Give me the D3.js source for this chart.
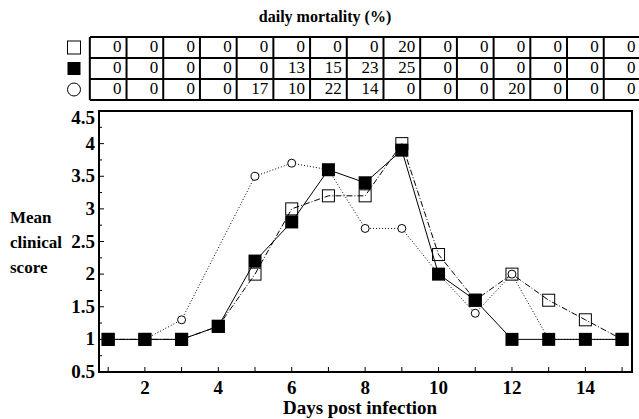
<!DOCTYPE html>
<html>
<head>
<meta charset="utf-8">
</head>
<body style="margin:0">
<script src="https://cdn.jsdelivr.net/npm/d3@7"></script>
<script>
// days on the x axis
var days = [1, 2, 3, 4, 5, 6, 7, 8, 9, 10, 11, 12, 13, 14, 15];

// mean clinical score per group
var openSquare = [1, 1, 1, 1.2, 2.0, 3.0, 3.2, 3.2, 4.0, 2.3, 1.6, 2.0, 1.6, 1.3, 1.0];
var filledSquare = [1, 1, 1, 1.2, 2.2, 2.8, 3.6, 3.4, 3.9, 2.0, 1.6, 1.0, 1.0, 1.0, 1.0];
var circleDays = [1, 2, 3, 5, 6, 7, 8, 9, 10, 11, 12, 13, 14, 15];
var circleScore = [1, 1, 1.3, 3.5, 3.7, 3.6, 2.7, 2.7, 2.0, 1.4, 2.0, 1.0, 1.0, 1.0];

// daily mortality (%) table
var mortOpen = [0, 0, 0, 0, 0, 0, 0, 0, 20, 0, 0, 0, 0, 0, 0];
var mortFilled = [0, 0, 0, 0, 0, 13, 15, 23, 25, 0, 0, 0, 0, 0, 0];
var mortCircle = [0, 0, 0, 0, 17, 10, 22, 14, 0, 0, 0, 20, 0, 0, 0];

var yTicks = [0.5, 1, 1.5, 2, 2.5, 3, 3.5, 4, 4.5];
var xTicks = [2, 4, 6, 8, 10, 12, 14];

var width = 639, height = 419;
var serif = "'Liberation Serif'";

var svg = d3.select("body").append("svg")
    .attr("width", width)
    .attr("height", height);

var x = d3.scaleLinear().domain([0.75, 15.27]).range([99, 632]);
var y = d3.scaleLinear().domain([0.5, 4.5]).range([372, 111]);

function label(sel, size, bold) {
  return sel.style("font-family", serif)
      .style("font-size", size + "px")
      .style("font-weight", bold ? "bold" : "normal")
      .attr("fill", "#000");
}

// ---- mortality table ----
label(svg.append("text"), 16, true)
    .attr("x", 325).attr("y", 22)
    .attr("text-anchor", "middle")
    .text("daily mortality (%)");

var rowTop = 37, rowH = 21;
var rows = [mortOpen, mortFilled, mortCircle];
var table = svg.append("g");

rows.forEach(function(vals, r) {
  var ry = rowTop + r * rowH;
  label(table.selectAll(".cell" + r)
      .data(vals)
      .enter().append("text"), 17, false)
      .attr("x", function(d, i) { return x(days[i] + 0.5) - 5; })
      .attr("y", ry + 15)
      .attr("text-anchor", "end")
      .text(function(d) { return d; });
});

// grid lines of table
for (var r = 0; r <= 3; r++) {
  table.append("line")
      .attr("x1", x(0.5)).attr("x2", x(15.5))
      .attr("y1", rowTop + r * rowH).attr("y2", rowTop + r * rowH)
      .attr("stroke", "#000").attr("stroke-width", 2);
}
table.selectAll(".vline")
    .data(d3.range(0.5, 16, 1))
    .enter().append("line")
    .attr("x1", function(d) { return x(d); })
    .attr("x2", function(d) { return x(d); })
    .attr("y1", rowTop).attr("y2", rowTop + 3 * rowH)
    .attr("stroke", "#000").attr("stroke-width", 2);

// legend symbols beside table
var lx = 74;
table.append("rect").attr("x", lx - 6.5).attr("y", rowTop + 4).attr("width", 13).attr("height", 13)
    .attr("fill", "#fff").attr("stroke", "#000").attr("stroke-width", 1);
table.append("rect").attr("x", lx - 6.5).attr("y", rowTop + rowH + 4).attr("width", 13).attr("height", 13)
    .attr("fill", "#000");
table.append("circle").attr("cx", lx).attr("cy", rowTop + 2 * rowH + 10.5).attr("r", 6.5)
    .attr("fill", "#fff").attr("stroke", "#000").attr("stroke-width", 1);

// ---- plot ----
var plot = svg.append("g");

// axis ticks (inward)
plot.selectAll(".xt")
    .data(days)
    .enter().append("line")
    .attr("x1", function(d) { return x(d); })
    .attr("x2", function(d) { return x(d); })
    .attr("y1", y(0.5)).attr("y2", y(0.5) - 5)
    .attr("stroke", "#000").attr("stroke-width", 1);

plot.selectAll(".yt")
    .data(d3.range(0.75, 4.5, 0.25))
    .enter().append("line")
    .attr("x1", x(0.75))
    .attr("x2", function(d) { return x(0.75) + (d % 0.5 === 0 ? 5 : 3); })
    .attr("y1", function(d) { return y(d); })
    .attr("y2", function(d) { return y(d); })
    .attr("stroke", "#000").attr("stroke-width", 1);

// tick labels (top one pushed down inside the frame)
label(plot.selectAll(".yl")
    .data(yTicks)
    .enter().append("text"), 19, true)
    .attr("x", 95)
    .attr("y", function(d) { return Math.max(y(d), y(4.5) + 7) + 6; })
    .attr("text-anchor", "end")
    .text(function(d) { return d; });

label(plot.selectAll(".xl")
    .data(xTicks)
    .enter().append("text"), 19, true)
    .attr("x", function(d) { return x(d); })
    .attr("y", 394)
    .attr("text-anchor", "middle")
    .text(function(d) { return d; });

label(svg.append("text"), 19, true)
    .attr("x", 360).attr("y", 414)
    .attr("text-anchor", "middle")
    .text("Days post infection");

["Mean", "clinical", "score"].forEach(function(t, i) {
  label(svg.append("text"), 17, true)
      .attr("x", 10).attr("y", 223 + i * 25).text(t);
});

// lines
var lineGen = d3.line()
    .x(function(d) { return x(d[0]); })
    .y(function(d) { return y(d[1]); });

var circlePts = circleDays.map(function(d, i) { return [d, circleScore[i]]; });
var openPts = days.map(function(d, i) { return [d, openSquare[i]]; });
var filledPts = days.map(function(d, i) { return [d, filledSquare[i]]; });

plot.append("path").datum(circlePts)
    .attr("d", lineGen).attr("fill", "none")
    .attr("stroke", "#000").attr("stroke-width", 1)
    .attr("stroke-dasharray", "1,2");

plot.append("path").datum(openPts)
    .attr("d", lineGen).attr("fill", "none")
    .attr("stroke", "#000").attr("stroke-width", 1)
    .attr("stroke-dasharray", "6,2,1,2");

plot.append("path").datum(filledPts)
    .attr("d", lineGen).attr("fill", "none")
    .attr("stroke", "#000").attr("stroke-width", 1);

// markers
plot.selectAll(".osq")
    .data(openPts)
    .enter().append("rect")
    .attr("x", function(d) { return x(d[0]) - 6; })
    .attr("y", function(d) { return y(d[1]) - 6; })
    .attr("width", 12).attr("height", 12)
    .attr("fill", "none").attr("stroke", "#000").attr("stroke-width", 1);

plot.selectAll(".circ")
    .data(circlePts)
    .enter().append("circle")
    .attr("cx", function(d) { return x(d[0]); })
    .attr("cy", function(d) { return y(d[1]); })
    .attr("r", 4)
    .attr("fill", "#fff").attr("stroke", "#000").attr("stroke-width", 1);

plot.selectAll(".fsq")
    .data(filledPts)
    .enter().append("rect")
    .attr("x", function(d) { return x(d[0]) - 6.5; })
    .attr("y", function(d) { return y(d[1]) - 6.5; })
    .attr("width", 13).attr("height", 13)
    .attr("fill", "#000");

// frame
plot.append("rect")
    .attr("x", x(0.75)).attr("y", y(4.5))
    .attr("width", x(15.27) - x(0.75))
    .attr("height", y(0.5) - y(4.5))
    .attr("fill", "none").attr("stroke", "#000").attr("stroke-width", 2);
</script>
</body>
</html>
